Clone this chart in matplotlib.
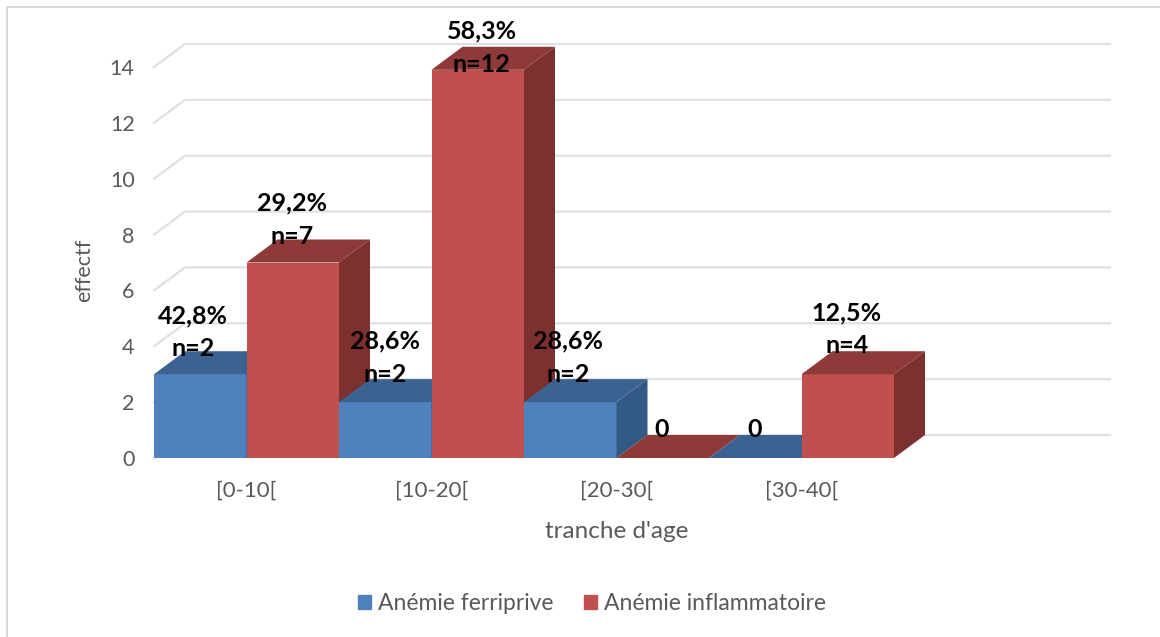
import matplotlib
matplotlib.use('Agg')
import matplotlib.pyplot as plt
from matplotlib.lines import Line2D
from matplotlib.patches import Patch, Polygon

# values
categories = ['[0-10[', '[10-20[', '[20-30[', '[30-40[']
ferriprive = [3, 2, 2, 0]
inflammatoire = [7, 13.9, 0, 3]
ferriprive_labels = ['42,8%\nn=2', '28,6%\nn=2', '28,6%\nn=2', '0']
inflammatoire_labels = ['29,2%\nn=7', '58,3%\nn=12', '0', '12,5%\nn=4']

W, H = 1160, 637
BLUE = ('#4F81BD', '#3C6291', '#335A85')
RED = ('#C0504D', '#8E3A38', '#7D302E')
GRID = '#E0E0E0'
TEXT = '#595959'

plt.rcParams['font.family'] = ['Lato', 'DejaVu Sans']

fig = plt.figure(figsize=(W / 100, H / 100), dpi=100)
# plot box in pixels: x 154-1079, y 67-458
ax = fig.add_axes([154 / W, 1 - 458 / H, 925 / W, 391 / H])
ax.set_xlim(0, 5)
ax.set_ylim(0, 14)

# depth of the fake 3d, in data units
dx = 31 / 185
dy = 23 / 27.93


def draw_bar(x, val, colors):
    front, top, side = colors
    ax.bar(x, val, 0.5, align='edge', color=front, zorder=3, clip_on=False)
    ax.add_patch(Polygon([(x, val), (x + 0.5, val), (x + 0.5 + dx, val + dy), (x + dx, val + dy)],
                         color=top, lw=0, zorder=3, clip_on=False))
    if val > 0:
        ax.add_patch(Polygon([(x + 0.5, 0), (x + 0.5 + dx, dy), (x + 0.5 + dx, val + dy), (x + 0.5, val)],
                             color=side, lw=0, zorder=3, clip_on=False))


# back wall gridlines and the diagonal at the left
for v in range(0, 16, 2):
    ax.plot([0, dx, 5 + dx], [v, v + dy, v + dy], color=GRID, lw=1.6, zorder=1, clip_on=False)

for i in range(len(categories)):
    draw_bar(i, ferriprive[i], BLUE)
    draw_bar(i + 0.5, inflammatoire[i], RED)

# data labels, offsets in pixels from the top of the bar
blue_off = [(-7, 14), (0, 16), (-2, 16), (-1, 17)]
red_off = [(-1, 15), (4, -6), (-1, 17), (-1, 17)]
for i in range(len(categories)):
    ax.annotate(ferriprive_labels[i], (i + 0.25, ferriprive[i]), xytext=blue_off[i], textcoords='offset pixels',
                ha='center', va='bottom', fontsize=18, fontweight='bold', color='black', linespacing=1.54, zorder=5)
    ax.annotate(inflammatoire_labels[i], (i + 0.75, inflammatoire[i]), xytext=red_off[i], textcoords='offset pixels',
                ha='center', va='bottom', fontsize=18, fontweight='bold', color='black', linespacing=1.54, zorder=5)

ax.set_xticks([i + 0.5 for i in range(len(categories))])
ax.set_xticklabels(categories)
ax.set_yticks(range(0, 16, 2))
ax.tick_params(length=0, labelsize=15.5, labelcolor=TEXT)
ax.tick_params(axis='x', labelsize=16, pad=16)
ax.tick_params(axis='y', pad=14)
for s in ax.spines.values():
    s.set_visible(False)
ax.set_xlabel("tranche d'age", fontsize=17.5, color=TEXT, labelpad=15)
ax.set_ylabel('effectf', fontsize=15.5, color=TEXT, labelpad=11, y=0.48)

handles = [Patch(color=BLUE[0], label='Anémie ferriprive'), Patch(color=RED[0], label='Anémie inflammatoire')]
fig.legend(handles=handles, loc='center', bbox_to_anchor=(592 / W, 1 - 604 / H), ncol=2, frameon=False,
           fontsize=16.5, labelcolor=TEXT, handlelength=0.57, handleheight=0.57, handletextpad=0.3, columnspacing=1.35)

# chart frame, only left and top are inside the crop
fig.add_artist(Line2D([7 / W, 7 / W, 1], [0, 1 - 7 / H, 1 - 7 / H], color='#D9D9D9', lw=1.4))

fig.savefig('out.png', dpi=100)
